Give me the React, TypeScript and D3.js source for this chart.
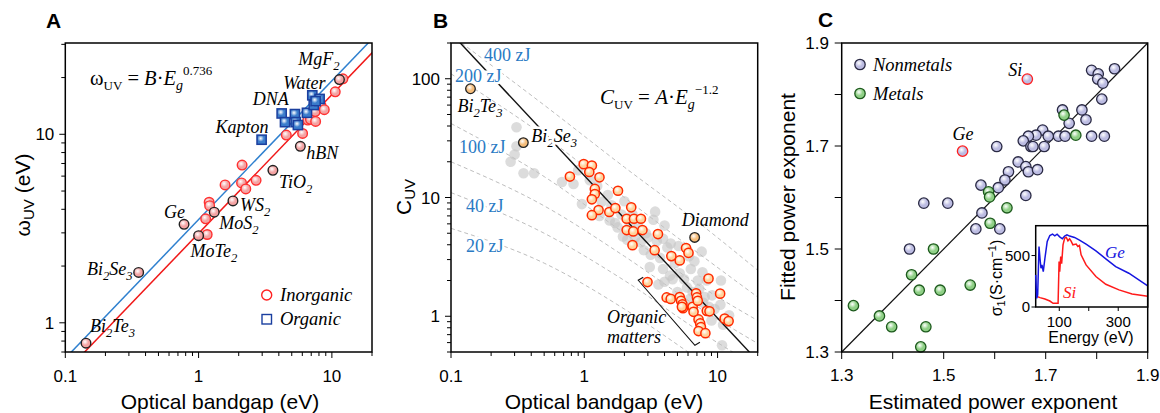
import React from "react";
import * as d3 from "d3";

const W = 1160;
const H = 413;
const SANS = "Liberation Sans, Arial, sans-serif";
const SERIF = "Liberation Serif, Times New Roman, serif";

// ---------- Panel A: [optical bandgap (eV), omega_UV (eV)]
const inorganicA = [
  [1.13, 3.56], [1.16, 2.94], [1.2, 4.36], [1.21, 4.18], [1.58, 5.39], [2.12, 6.87],
  [2.1, 5.52], [2.26, 5.13], [2.7, 5.7], [4.55, 9.9], [6.03, 10.1], [6.6, 11.9],
  [6.9, 12.0], [7.55, 11.7], [7.5, 13.2], [8.3, 14.2], [8.77, 13.5], [10.6, 16.8], [12.1, 19.7],
];
const labeledA = [
  { name: "Bi_2Te_3", eg: 0.143, w: 0.78 },
  { name: "Bi_2Se_3", eg: 0.355, w: 1.85 },
  { name: "Ge", eg: 0.778, w: 3.33 },
  { name: "MoTe_2", eg: 1.0, w: 2.9 },
  { name: "MoS_2", eg: 1.31, w: 3.86 },
  { name: "WS_2", eg: 1.81, w: 4.43 },
  { name: "TiO_2", eg: 3.61, w: 6.44 },
  { name: "hBN", eg: 5.8, w: 8.63 },
  { name: "MgF_2", eg: 11.4, w: 19.5 },
];
const organicA = [
  { name: "Kapton", eg: 2.97, w: 9.36 },
  { name: "DNA", eg: 4.2, w: 12.9 },
  { name: "", eg: 4.45, w: 11.6 },
  { name: "", eg: 5.28, w: 12.8 },
  { name: "", eg: 5.35, w: 11.6 },
  { name: "", eg: 5.56, w: 11.2 },
  { name: "", eg: 6.5, w: 13.0 },
  { name: "Water", eg: 7.13, w: 16.1 },
  { name: "", eg: 8.09, w: 15.4 },
  { name: "", eg: 7.31, w: 14.3 },
  { name: "", eg: 7.55, w: 15.0 },
];
const fitA = { exponent: 0.736, inorganicB: 2.98, organicB: 3.53 };

// ---------- Panel B: [optical bandgap (eV), C_UV]
const redB = [
  [0.78, 15.0], [0.99, 19.1], [1.14, 18.6], [1.09, 16.4], [1.3, 14.8], [1.2, 11.8], [1.2, 10.7],
  [1.14, 9.65], [1.79, 11.4], [1.28, 7.85], [1.14, 7.1], [1.54, 7.55], [1.71, 8.15], [2.25, 8.27],
  [2.08, 6.62], [2.36, 6.62], [2.66, 6.62], [2.08, 5.32], [2.33, 5.18], [2.73, 5.32], [2.3, 3.97],
  [3.57, 4.92], [3.37, 3.6], [4.5, 3.21], [5.2, 2.95], [5.8, 3.75], [6.05, 3.42], [2.98, 1.94],
  [8.55, 2.08], [10.45, 1.55], [4.15, 1.44], [4.45, 1.4], [5.2, 1.45], [5.32, 1.35], [5.45, 1.26],
  [5.5, 1.17], [6.5, 1.2], [6.9, 1.56], [7.0, 1.44], [7.1, 1.35], [8.3, 1.11], [8.7, 1.1],
  [7.2, 0.94], [7.4, 0.87], [7.5, 0.81], [7.2, 0.75], [8.1, 0.72], [11.3, 0.955], [12.1, 0.91],
  [6.6, 1.09], [5.4, 1.2],
];
const greyB = [
  [0.31, 39], [0.31, 27], [0.3, 23], [0.28, 20], [0.35, 16], [0.42, 16], [0.68, 13.5], [0.83, 13],
  [0.9, 17], [0.96, 8.8], [1.1, 14], [1.25, 12.5], [1.35, 9.2], [1.5, 10.5], [1.6, 8.6], [1.7, 6.1],
  [1.78, 5.6], [1.9, 7.2], [2.0, 9.3], [1.95, 4.7], [2.2, 6.0], [2.4, 4.6], [2.55, 5.6], [2.65, 4.2],
  [2.8, 3.6], [3.0, 4.6], [3.15, 3.3], [3.3, 6.5], [3.4, 7.6], [3.5, 4.3], [3.7, 3.1], [3.9, 4.5],
  [4.0, 5.8], [3.9, 2.5], [4.2, 3.8], [4.45, 4.1], [4.8, 2.8], [5.1, 3.9], [5.2, 2.3], [5.6, 2.05],
  [6.1, 3.2], [6.3, 2.5], [6.7, 2.9], [7.1, 2.0], [7.6, 3.5], [7.7, 2.35], [8.3, 2.0], [4.6, 2.05],
  [4.0, 1.95], [3.6, 1.85], [5.9, 1.75], [6.5, 1.6], [7.3, 1.7], [8.0, 1.45], [9.1, 1.5], [10.6, 2.0],
  [9.5, 1.15], [10.5, 1.25], [11.0, 0.85], [10.8, 0.57], [9.0, 0.92], [7.8, 1.3], [6.2, 1.4],
  [12.2, 1.02], [2.3, 7.2], [2.9, 5.0], [1.55, 6.4], [1.3, 7.0], [2.1, 4.4], [3.1, 2.6], [4.4, 2.2],
  [8.6, 1.2], [5.0, 1.6],
];
const labeledB = [
  { name: "Bi_2Te_3", eg: 0.14, c: 82.4 },
  { name: "Bi_2Se_3", eg: 0.349, c: 29.0 },
  { name: "Diamond", eg: 6.73, c: 4.61 },
];
const fitB = { A: 15.3, exponent: -1.2 };
const energyCurves = [
  { label: "400 zJ", pts: [[0.12, 200], [0.5, 60], [2, 18], [8, 5.6], [20, 2.44]] },
  { label: "200 zJ", pts: [[0.1, 110], [0.5, 33], [2, 10], [8, 3.1], [20, 1.45]] },
  { label: "100 zJ", pts: [[0.1, 42], [0.5, 15], [2, 5], [8, 1.7], [20, 0.92]] },
  { label: "", pts: [[0.1, 20], [0.5, 8.5], [2, 3.2], [8, 1.1], [20, 0.59]] },
  { label: "40 zJ", pts: [[0.1, 11], [0.5, 5], [2, 2], [8, 0.7], [13, 0.5]] },
  { label: "20 zJ", pts: [[0.1, 5.5], [0.5, 2.8], [2, 1.15], [6, 0.5]] },
];
const organicBracket = [[2.54, 2.01], [6.76, 0.57]];

// ---------- Panel C: [estimated exponent, fitted exponent]
const nonmetalsC = [
  [1.79, 1.847], [1.803, 1.84], [1.835, 1.85], [1.802, 1.83], [1.812, 1.822], [1.81, 1.791],
  [1.733, 1.77], [1.771, 1.77], [1.779, 1.751], [1.746, 1.744], [1.725, 1.719], [1.738, 1.719],
  [1.79, 1.719], [1.815, 1.719], [1.694, 1.731], [1.681, 1.721], [1.666, 1.719], [1.656, 1.71],
  [1.671, 1.699], [1.675, 1.699], [1.697, 1.699], [1.705, 1.719], [1.604, 1.699], [1.646, 1.669],
  [1.661, 1.66], [1.666, 1.65], [1.684, 1.654], [1.627, 1.65], [1.62, 1.634], [1.607, 1.619],
  [1.573, 1.624], [1.661, 1.604], [1.575, 1.57], [1.563, 1.539], [1.61, 1.539], [1.461, 1.589],
  [1.508, 1.589], [1.433, 1.5],
];
const metalsC = [
  [1.588, 1.611], [1.59, 1.601], [1.624, 1.58], [1.591, 1.55], [1.48, 1.5], [1.437, 1.45],
  [1.452, 1.42], [1.493, 1.42], [1.552, 1.43], [1.323, 1.39], [1.374, 1.37], [1.398, 1.349],
  [1.465, 1.349], [1.455, 1.31], [1.736, 1.76], [1.759, 1.721],
];
const outliersC = [
  { name: "Si", est: 1.664, fit: 1.83 },
  { name: "Ge", est: 1.537, fit: 1.69 },
];
// inset: [energy (eV), sigma_1 (S/cm)]
const geSigma = [
  [20, 312], [23.4, 84], [26.7, 117], [31.2, 588], [34.5, 474], [37.9, 377], [41.2, 409], [45.7, 344],
  [51.3, 474], [59.1, 637], [68, 695], [77, 708], [84.8, 692], [92.6, 708], [101.5, 682], [110.5, 663],
  [118.3, 689], [126.1, 702], [135, 689], [151.8, 676], [168.5, 650], [190.9, 611], [224.3, 546],
  [257.9, 468], [291.4, 393], [336, 328], [400, 205],
];
const siSigma = [
  [25.6, 101], [34.5, 91], [51.3, 78], [68, 58], [79, 36], [96, 36], [99.3, 442], [101.5, 344],
  [104.9, 491], [108, 420], [112.7, 604], [118.3, 669], [123.9, 676], [129.4, 643], [135, 663],
  [140.6, 637], [146.2, 604], [157.3, 611], [163, 588], [168.5, 598], [174, 507], [190.9, 409],
  [224.3, 296], [257.9, 221], [302.5, 166], [347, 127], [400, 105],
];

// ---------- frames
const top = 43;
const bottom = 352;

function logTicks(lo: number, hi: number) {
  const out: { v: number; major: boolean }[] = [];
  for (let d = Math.floor(Math.log10(lo)); d <= Math.ceil(Math.log10(hi)); d++) {
    for (let m = 1; m <= 9; m++) {
      const v = m * Math.pow(10, d);
      if (v >= lo * 0.999 && v <= hi * 1.001) out.push({ v, major: m === 1 });
    }
  }
  return out;
}

function Rich({ s, fs, sub = 5 }: { s: string; fs: number; sub?: number }) {
  const parts = s.split(/_(\d)/);
  return (
    <>
      {parts.map((p, i) =>
        i % 2 ? (
          <tspan key={i} dy={sub} fontSize={fs * 0.7}>{p}</tspan>
        ) : p ? (
          <tspan key={i} dy={i > 0 ? -sub : 0}>{p}</tspan>
        ) : null
      )}
    </>
  );
}

function Frame({ x0, x1 }: { x0: number; x1: number }) {
  return <rect x={x0} y={top} width={x1 - x0} height={bottom - top} fill="none" stroke="#000" strokeWidth={1.5} />;
}

function LogXAxis({ sc }: { sc: any }) {
  const [lo, hi] = sc.domain();
  return (
    <g>
      {logTicks(lo, hi).map((t, i) => (
        <line key={i} x1={sc(t.v)} x2={sc(t.v)} y1={bottom} y2={bottom + (t.major ? 6 : 4)} stroke="#000" strokeWidth={1} />
      ))}
      {logTicks(lo, hi).filter((t) => t.major).map((t, i) => (
        <text key={i} x={sc(t.v)} y={bottom + 30} textAnchor="middle" fontSize={17}>{String(t.v)}</text>
      ))}
    </g>
  );
}

function LogYAxis({ sc, x0 }: { sc: any; x0: number }) {
  const [lo, hi] = sc.domain();
  return (
    <g>
      {logTicks(lo, hi).map((t, i) => (
        <line key={i} x1={x0} x2={x0 - (t.major ? 6 : 4)} y1={sc(t.v)} y2={sc(t.v)} stroke="#000" strokeWidth={1} />
      ))}
      {logTicks(lo, hi).filter((t) => t.major).map((t, i) => (
        <text key={i} x={x0 - 11} y={sc(t.v) + 6} textAnchor="end" fontSize={17}>{String(t.v)}</text>
      ))}
    </g>
  );
}

function PanelA() {
  const x = d3.scaleLog().domain([0.1, 20]).range([65.3, 372]);
  const y = d3.scaleLog().domain([0.7, 30.5]).range([bottom, top]);
  const line = (B: number) =>
    d3.line<number>().x((e) => x(e)).y((e) => y(B * Math.pow(e, fitA.exponent)))([0.08, 25]);
  const offs: Record<string, [number, number, string]> = {
    Bi_2Te_3: [4, -11, "start"], Bi_2Se_3: [-6, 3, "end"], Ge: [1, -6, "end"], MoTe_2: [-8, 21, "start"],
    MoS_2: [5, 17, "start"], WS_2: [7, 10, "start"], TiO_2: [6, 18, "start"], hBN: [6, 13, "start"],
    MgF_2: [0, -15, "end"], Kapton: [7, -7, "end"], DNA: [7, -8, "end"], Water: [-29, -6, "start"],
  };
  const lbl = (name: string, px: number, py: number) => {
    const o = offs[name];
    return (
      <text key={name} x={px + o[0]} y={py + o[1]} textAnchor={o[2]} fontFamily={SERIF} fontStyle="italic" fontSize={18}>
        <Rich s={name} fs={18} />
      </text>
    );
  };
  return (
    <g>
      <defs>
        <clipPath id="clipA"><rect x={65.3} y={top} width={372 - 65.3} height={bottom - top} /></clipPath>
      </defs>
      <g clipPath="url(#clipA)">
        <path d={line(fitA.organicB) || ""} stroke="#2f80cf" strokeWidth={1.5} fill="none" />
        <path d={line(fitA.inorganicB) || ""} stroke="#f01818" strokeWidth={1.5} fill="none" />
        {inorganicA.map((d, i) => (
          <circle key={i} cx={x(d[0])} cy={y(d[1])} r={4.8} fill="url(#gPink)" stroke="#ff3030" strokeWidth={1.4} />
        ))}
        {labeledA.map((d, i) => (
          <circle key={i} cx={x(d.eg)} cy={y(d.w)} r={4.8} fill="url(#gPink)" stroke="#222" strokeWidth={1.4} />
        ))}
        {organicA.map((d, i) => (
          <rect key={i} x={x(d.eg) - 4.6} y={y(d.w) - 4.6} width={9.2} height={9.2} fill="url(#gBlue)" stroke="#1b3f9e" strokeWidth={1.5} />
        ))}
      </g>
      {labeledA.map((d) => lbl(d.name, x(d.eg), y(d.w)))}
      {organicA.filter((d) => d.name).map((d) => lbl(d.name, x(d.eg), y(d.w)))}
      <text x={90} y={85} fontFamily={SERIF} fontSize={20.5}>
        <tspan>ω</tspan>
        <tspan dy={5} fontSize={13}>UV</tspan>
        <tspan dy={-5}> = </tspan>
        <tspan fontStyle="italic">B</tspan>
        <tspan>·</tspan>
        <tspan fontStyle="italic">E</tspan>
        <tspan dy={5} fontSize={14} fontStyle="italic">g</tspan>
        <tspan dy={-15} fontSize={13}>0.736</tspan>
      </text>
      <circle cx={266.7} cy={295} r={5} fill="#fff" stroke="#ff2020" strokeWidth={1.4} />
      <text x={280} y={301} fontFamily={SERIF} fontStyle="italic" fontSize={18.5}>Inorganic</text>
      <rect x={262} y={314.5} width={9.5} height={9.5} fill="#fff" stroke="#1a3fa0" strokeWidth={1.4} />
      <text x={280} y={325} fontFamily={SERIF} fontStyle="italic" fontSize={18.5}>Organic</text>
      <Frame x0={65.3} x1={372} />
      <LogXAxis sc={x} />
      <LogYAxis sc={y} x0={65.3} />
      <text x={220} y={409} textAnchor="middle" fontSize={21}>Optical bandgap (eV)</text>
      <text transform="translate(30,195) rotate(-90)" textAnchor="middle" fontSize={21}>
        <tspan>ω</tspan><tspan dy={4} fontSize={15}>UV</tspan><tspan dy={-4}> (eV)</tspan>
      </text>
      <text x={46} y={28} fontSize={21} fontWeight="bold">A</text>
    </g>
  );
}

function PanelB() {
  const x = d3.scaleLog().domain([0.1, 20]).range([451, 757.7]);
  const y = d3.scaleLog().domain([0.5, 200]).range([bottom, top]);
  const curve = d3.line<number[]>().x((d) => x(d[0])).y((d) => y(d[1])).curve(d3.curveMonotoneX);
  const fit = d3.line<number>().x((e) => x(e)).y((e) => y(fitB.A * Math.pow(e, fitB.exponent)))([0.09, 25]);
  const zj: Record<string, [number, number]> = {
    "400 zJ": [484, 61], "200 zJ": [455, 82], "100 zJ": [459, 153], "40 zJ": [466, 212], "20 zJ": [466, 252],
  };
  const offs: Record<string, [number, number]> = { Bi_2Te_3: [-13, 23], Bi_2Se_3: [8, -1], Diamond: [-13, -11] };
  const b0 = organicBracket[0];
  const b1 = organicBracket[1];
  return (
    <g>
      <defs>
        <clipPath id="clipB"><rect x={451} y={top} width={757.7 - 451} height={bottom - top} /></clipPath>
      </defs>
      <g clipPath="url(#clipB)">
        {energyCurves.map((c, i) => (
          <path key={i} d={curve(c.pts) || ""} fill="none" stroke="#bdbdbd" strokeWidth={1} strokeDasharray="4,3" />
        ))}
        {greyB.map((d, i) => (
          <circle key={i} cx={x(d[0])} cy={y(d[1])} r={5.3} fill="#c4c4c4" opacity={0.6} />
        ))}
        <path d={fit || ""} fill="none" stroke="#111" strokeWidth={1.4} />
      </g>
      {energyCurves.filter((c) => c.label).map((c) => (
        <text key={c.label} x={zj[c.label][0]} y={zj[c.label][1]} fontFamily={SERIF} fontSize={18} fill="#2a7ac4"
          stroke="#fff" strokeWidth={5} paintOrder="stroke">{c.label}</text>
      ))}
      {labeledB.map((d) => {
        const o = offs[d.name];
        return (
          <text key={d.name} x={x(d.eg) + o[0]} y={y(d.c) + o[1]} fontFamily={SERIF} fontStyle="italic" fontSize={18}
            stroke="#fff" strokeWidth={d.name === "Bi_2Se_3" ? 5 : 0} paintOrder="stroke">
            <Rich s={d.name} fs={18} />
          </text>
        );
      })}
      <path
        d={`M${x(b0[0]) + 5},${y(b0[1]) - 3}L${x(b0[0])},${y(b0[1])}L${x(b1[0])},${y(b1[1])}L${x(b1[0]) + 5},${y(b1[1]) - 3}`}
        fill="none" stroke="#111" strokeWidth={1.1}
      />
      <text x={607} y={323} fontFamily={SERIF} fontStyle="italic" fontSize={18}>Organic</text>
      <text x={607} y={343} fontFamily={SERIF} fontStyle="italic" fontSize={18}>matters</text>
      {redB.map((d, i) => (
        <circle key={i} cx={x(d[0])} cy={y(d[1])} r={4.6} fill="url(#gPeach)" stroke="#ff2a00" strokeWidth={1.5} />
      ))}
      {labeledB.map((d, i) => (
        <circle key={i} cx={x(d.eg)} cy={y(d.c)} r={4.8} fill="url(#gOrange)" stroke="#222" strokeWidth={1.3} />
      ))}
      <text x={600} y={104} fontFamily={SERIF} fontSize={21}>
        <tspan fontStyle="italic">C</tspan>
        <tspan dy={5} fontSize={13}>UV</tspan>
        <tspan dy={-5}> = </tspan>
        <tspan fontStyle="italic">A</tspan>
        <tspan>·</tspan>
        <tspan fontStyle="italic">E</tspan>
        <tspan dy={5} fontSize={14} fontStyle="italic">g</tspan>
        <tspan dy={-15} fontSize={13}>−1.2</tspan>
      </text>
      <Frame x0={451} x1={757.7} />
      <LogXAxis sc={x} />
      <LogYAxis sc={y} x0={451} />
      <text x={604} y={409} textAnchor="middle" fontSize={21}>Optical bandgap (eV)</text>
      <text transform="translate(411,197) rotate(-90)" textAnchor="middle" fontSize={21}>
        <tspan>C</tspan><tspan dy={4} fontSize={15}>UV</tspan>
      </text>
      <text x={433} y={28} fontSize={21} fontWeight="bold">B</text>
    </g>
  );
}

function PanelC() {
  const x = d3.scaleLinear().domain([1.3, 1.9]).range([841.7, 1147.7]);
  const y = d3.scaleLinear().domain([1.3, 1.9]).range([bottom, top]);
  const ticks = d3.range(1.3, 1.9001, 0.1);
  const ix = d3.scaleLinear().domain([20, 400]).range([1035.7, 1147.7]);
  const iy = d3.scaleLinear().domain([0, 790]).range([307, 225.7]);
  const sig = d3.line<number[]>().x((d) => ix(d[0])).y((d) => iy(d[1]));
  return (
    <g>
      <line x1={x(1.3)} y1={y(1.3)} x2={x(1.9)} y2={y(1.9)} stroke="#111" strokeWidth={1.2} />
      {nonmetalsC.map((d, i) => (
        <circle key={i} cx={x(d[0])} cy={y(d[1])} r={5.2} fill="url(#gLav)" stroke="#2a2a44" strokeWidth={1.3} />
      ))}
      {metalsC.map((d, i) => (
        <circle key={i} cx={x(d[0])} cy={y(d[1])} r={5.2} fill="url(#gGreen)" stroke="#1d5a1d" strokeWidth={1.3} />
      ))}
      {outliersC.map((d) => (
        <circle key={d.name} cx={x(d.est)} cy={y(d.fit)} r={5.2} fill="url(#gLav)" stroke="#ff2020" strokeWidth={1.3} />
      ))}
      <text x={x(1.664) - 5} y={y(1.83) - 3} textAnchor="end" fontFamily={SERIF} fontStyle="italic" fontSize={18}>Si</text>
      <text x={x(1.537) - 10} y={y(1.69) - 11} fontFamily={SERIF} fontStyle="italic" fontSize={18}>Ge</text>
      <circle cx={860} cy={64.5} r={5.2} fill="url(#gLav)" stroke="#2a2a44" strokeWidth={1.3} />
      <text x={873} y={71} fontFamily={SERIF} fontStyle="italic" fontSize={18.5}>Nonmetals</text>
      <circle cx={860} cy={93.5} r={5.2} fill="url(#gGreen)" stroke="#1d5a1d" strokeWidth={1.3} />
      <text x={873} y={100} fontFamily={SERIF} fontStyle="italic" fontSize={18.5}>Metals</text>
      {/* inset */}
      <rect x={1035.7} y={225.7} width={1147.7 - 1035.7} height={307 - 225.7} fill="#fff" stroke="#000" strokeWidth={1.5} />
      <path d={sig(siSigma) || ""} fill="none" stroke="#ff1a1a" strokeWidth={1.5} />
      <path d={sig(geSigma) || ""} fill="none" stroke="#1515e0" strokeWidth={1.5} />
      <text x={1105} y={258} fontFamily={SERIF} fontStyle="italic" fontSize={17} fill="#1515e0">Ge</text>
      <text x={1063} y={298} fontFamily={SERIF} fontStyle="italic" fontSize={17} fill="#ff1a1a">Si</text>
      {[0, 500].map((v) => (
        <g key={v}>
          <line x1={1035.7} x2={1031.5} y1={iy(v)} y2={iy(v)} stroke="#000" />
          <text x={1030} y={iy(v) + 5} textAnchor="end" fontSize={15}>{v}</text>
        </g>
      ))}
      {[100, 200, 300].map((v) => (
        <line key={v} x1={ix(v)} x2={ix(v)} y1={307} y2={311} stroke="#000" />
      ))}
      {[100, 300].map((v) => (
        <text key={v} x={ix(v)} y={327} textAnchor="middle" fontSize={15}>{v}</text>
      ))}
      <text x={1091} y={343} textAnchor="middle" fontSize={16}>Energy (eV)</text>
      <text transform="translate(1002,278) rotate(-90)" textAnchor="middle" fontSize={16}>
        <tspan>σ</tspan><tspan dy={3} fontSize={11}>1</tspan><tspan dy={-3}>(S·cm</tspan>
        <tspan dy={-6} fontSize={11}>−1</tspan><tspan dy={6}>)</tspan>
      </text>
      <Frame x0={841.7} x1={1147.7} />
      {ticks.map((t, i) => (
        <g key={i}>
          <line x1={x(t)} x2={x(t)} y1={bottom} y2={bottom + 7} stroke="#000" />
          <line x1={841.7} x2={834.7} y1={y(t)} y2={y(t)} stroke="#000" />
        </g>
      ))}
      {ticks.filter((_, i) => i % 2 === 0).map((t, i) => (
        <g key={i}>
          <text x={x(t)} y={381} textAnchor="middle" fontSize={17}>{t.toFixed(1)}</text>
          <text x={829} y={y(t) + 6} textAnchor="end" fontSize={17}>{t.toFixed(1)}</text>
        </g>
      ))}
      <text x={993} y={409} textAnchor="middle" fontSize={21}>Estimated power exponent</text>
      <text transform="translate(795,197) rotate(-90)" textAnchor="middle" fontSize={21}>Fitted power exponent</text>
      <text x={818} y={27} fontSize={21} fontWeight="bold">C</text>
    </g>
  );
}

function Grad({ id, edge }: { id: string; edge: string }) {
  return (
    <radialGradient id={id} cx="40%" cy="36%" r="55%">
      <stop offset="0%" stopColor="#fff" />
      <stop offset="65%" stopColor={edge} />
      <stop offset="100%" stopColor={edge} />
    </radialGradient>
  );
}

export default function App() {
  return (
    <svg width={W} height={H} style={{ position: "absolute", left: 0, top: 0, background: "#fff" }} fontFamily={SANS}>
      <defs>
        <Grad id="gPink" edge="#f4a3a3" />
        <Grad id="gBlue" edge="#3b7dcc" />
        <Grad id="gPeach" edge="#ffd39c" />
        <Grad id="gOrange" edge="#f6bd7a" />
        <Grad id="gLav" edge="#bcbce2" />
        <Grad id="gGreen" edge="#8fd086" />
      </defs>
      <PanelA />
      <PanelB />
      <PanelC />
    </svg>
  );
}
